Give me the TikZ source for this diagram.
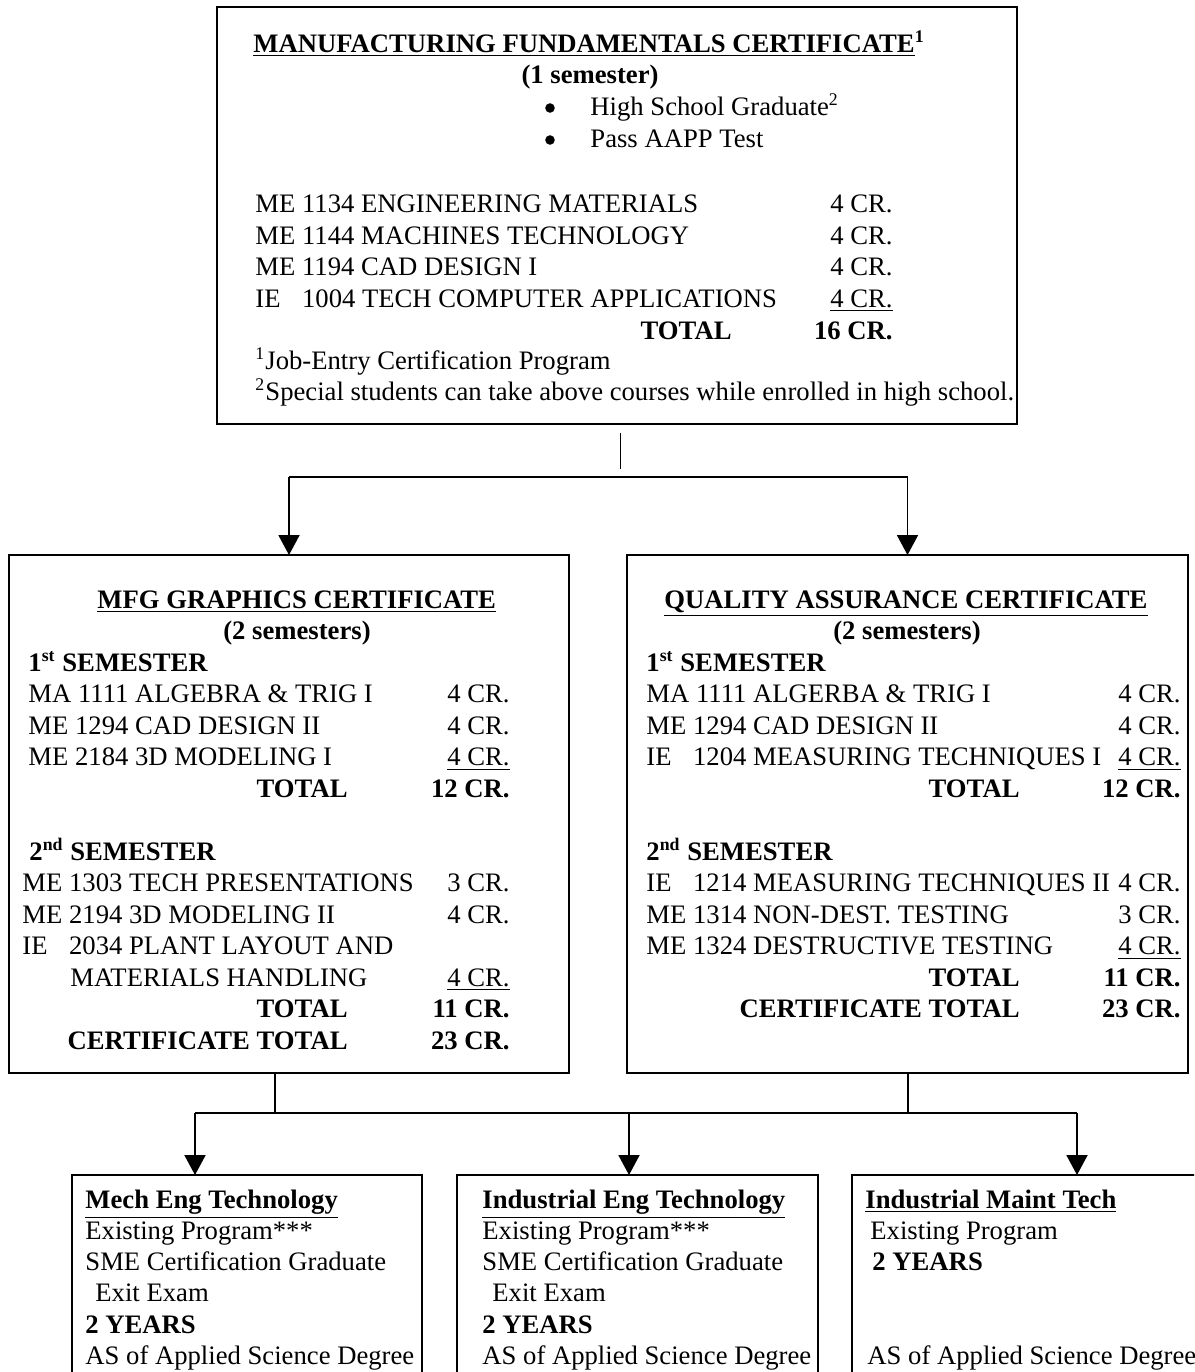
\documentclass[tikz,border=0pt]{standalone}
\usepackage{fontspec}
\setmainfont{Liberation Serif}
\usetikzlibrary{arrows.meta}
\newcommand\iepre{\rlap{IE}\phantom{ME }}
\begin{document}
\begin{tikzpicture}[x=0.45pt,y=-0.45pt,
  font=\fontsize{12}{14}\selectfont,
  frame/.style={draw,line width=0.9pt,inner sep=0,outer sep=0},
  smallframe/.style={draw,line width=0.75pt,inner sep=0,outer sep=0},
  txt/.style={inner sep=0,anchor=base west},
  rtxt/.style={inner sep=0,anchor=base east},
  ctxt/.style={inner sep=0,anchor=base},
  bullet/.style={circle,fill,inner sep=0,minimum size=4.3pt},
  conn/.style={line width=0.7pt},
  arr/.style={line width=0.7pt,-{Triangle[length=9pt,width=9.5pt]}}]
\useasboundingbox (0,0) rectangle (1194,1372);
\fill[white] (0,0) rectangle (1194,1372);
\clip (0,0) rectangle (1194,1372);

% ---------- boxes ----------
\node[frame,minimum width=360pt,minimum height=187.65pt] (top) at (617,215.5) {};
\node[frame,minimum width=252pt,minimum height=233.1pt] (mfg) at (289,814) {};
\node[frame,minimum width=252.45pt,minimum height=233.1pt] (qa) at (907.5,814) {};
\node[smallframe,minimum width=157.5pt,minimum height=123.75pt] (mech) at (247,1312.5) {};
\node[smallframe,minimum width=162.45pt,minimum height=123.75pt] (ind) at (637.5,1312.5) {};
\node[smallframe,minimum width=157.5pt,minimum height=123.75pt] (maint) at (1027,1312.5) {};

% ---------- top box text ----------
\node[txt] (t1) at (253,52) {\bfseries\underline{MANUFACTURING FUNDAMENTALS CERTIFICATE}\textsuperscript{1}};
\node[ctxt] (t2) at (590,83) {\bfseries (1 semester)};
\node[bullet] (t3) at (550,108) {};
\node[txt] (t4) at (590,115) {High School Graduate\textsuperscript{2}};
\node[bullet] (t5) at (550,140) {};
\node[txt] (t6) at (590,147) {Pass AAPP Test};
\node[txt] (t7) at (255,212) {ME 1134 ENGINEERING MATERIALS};
\node[rtxt] (t8) at (893,212) {4 CR.};
\node[txt] (t9) at (255,244) {ME 1144 MACHINES TECHNOLOGY};
\node[rtxt] (t10) at (893,244) {4 CR.};
\node[txt] (t11) at (255,275) {ME 1194 CAD DESIGN I};
\node[rtxt] (t12) at (893,275) {4 CR.};
\node[txt] (t13) at (255,307) {\iepre 1004 TECH COMPUTER APPLICATIONS};
\node[rtxt] (t14) at (893,307) {\underline{4 CR.}};
\node[rtxt] (t15) at (732,339) {\bfseries TOTAL};
\node[rtxt] (t16) at (893,339) {\bfseries 16 CR.};
\node[txt] (t17) at (255,369) {\textsuperscript{1}Job-Entry Certification Program};
\node[txt] (t18) at (255,400) {\textsuperscript{2}Special students can take above courses while enrolled in high school.};

% ---------- left certificate ----------
\node[txt] (l1) at (97,608) {\bfseries\underline{MFG GRAPHICS CERTIFICATE}};
\node[ctxt] (l2) at (297,639.5) {\bfseries (2 semesters)};
\node[txt] (l3) at (28,671) {\bfseries 1\textsuperscript{st} SEMESTER};
\node[txt] (l4) at (28,702.5) {MA 1111 ALGEBRA \& TRIG I};
\node[rtxt] (l5) at (510,702.5) {4 CR.};
\node[txt] (l6) at (28,734) {ME 1294 CAD DESIGN II};
\node[rtxt] (l7) at (510,734) {4 CR.};
\node[txt] (l8) at (28,765.5) {ME 2184 3D MODELING I};
\node[rtxt] (l9) at (510,765.5) {\underline{4 CR.}};
\node[rtxt] (l10) at (348,797) {\bfseries TOTAL};
\node[rtxt] (l11) at (510,797) {\bfseries 12 CR.};
\node[txt] (l12) at (29,860) {\bfseries 2\textsuperscript{nd} SEMESTER};
\node[txt] (l13) at (22,891.5) {ME 1303 TECH PRESENTATIONS};
\node[rtxt] (l14) at (510,891.5) {3 CR.};
\node[txt] (l15) at (22,923) {ME 2194 3D MODELING II};
\node[rtxt] (l16) at (510,923) {4 CR.};
\node[txt] (l17) at (22,954.5) {\iepre 2034 PLANT LAYOUT AND};
\node[txt] (l18) at (70,986) {MATERIALS HANDLING};
\node[rtxt] (l19) at (510,986) {\underline{4 CR.}};
\node[rtxt] (l20) at (348,1017.5) {\bfseries TOTAL};
\node[rtxt] (l21) at (510,1017.5) {\bfseries 11 CR.};
\node[rtxt] (l22) at (348,1049) {\bfseries CERTIFICATE TOTAL};
\node[rtxt] (l23) at (510,1049) {\bfseries 23 CR.};

% ---------- right certificate ----------
\node[txt] (r1) at (664,608) {\bfseries\underline{QUALITY ASSURANCE CERTIFICATE}};
\node[ctxt] (r2) at (907,639.5) {\bfseries (2 semesters)};
\node[txt] (r3) at (646,671) {\bfseries 1\textsuperscript{st} SEMESTER};
\node[txt] (r4) at (646,702.5) {MA 1111 ALGERBA \& TRIG I};
\node[rtxt] (r5) at (1181,702.5) {4 CR.};
\node[txt] (r6) at (646,734) {ME 1294 CAD DESIGN II};
\node[rtxt] (r7) at (1181,734) {4 CR.};
\node[txt] (r8) at (646,765.5) {\iepre 1204 MEASURING TECHNIQUES I};
\node[rtxt] (r9) at (1181,765.5) {\underline{4 CR.}};
\node[rtxt] (r10) at (1020,797) {\bfseries TOTAL};
\node[rtxt] (r11) at (1181,797) {\bfseries 12 CR.};
\node[txt] (r12) at (646,860) {\bfseries 2\textsuperscript{nd} SEMESTER};
\node[txt] (r13) at (646,891.5) {\iepre 1214 MEASURING TECHNIQUES II};
\node[rtxt] (r14) at (1181,891.5) {4 CR.};
\node[txt] (r15) at (646,923) {ME 1314 NON-DEST. TESTING};
\node[rtxt] (r16) at (1181,923) {3 CR.};
\node[txt] (r17) at (646,954.5) {ME 1324 DESTRUCTIVE TESTING};
\node[rtxt] (r18) at (1181,954.5) {\underline{4 CR.}};
\node[rtxt] (r19) at (1020,986) {\bfseries TOTAL};
\node[rtxt] (r20) at (1181,986) {\bfseries 11 CR.};
\node[rtxt] (r21) at (1020,1017.5) {\bfseries CERTIFICATE TOTAL};
\node[rtxt] (r22) at (1181,1017.5) {\bfseries 23 CR.};

% ---------- bottom boxes ----------
\node[txt] (a1) at (85,1208) {\bfseries\underline{Mech Eng Technology}};
\node[txt] (a2) at (85,1239) {Existing Program***};
\node[txt] (a3) at (85,1270) {SME Certification Graduate};
\node[txt] (a4) at (95,1301) {Exit Exam};
\node[txt] (a5) at (85,1333) {\bfseries 2 YEARS};
\node[txt] (a6) at (85,1364) {AS of Applied Science Degree};

\node[txt] (b1) at (482,1208) {\bfseries\underline{Industrial Eng Technology}};
\node[txt] (b2) at (482,1239) {Existing Program***};
\node[txt] (b3) at (482,1270) {SME Certification Graduate};
\node[txt] (b4) at (492,1301) {Exit Exam};
\node[txt] (b5) at (482,1333) {\bfseries 2 YEARS};
\node[txt] (b6) at (482,1364) {AS of Applied Science Degree};

\node[txt] (c1) at (865,1208) {\bfseries\underline{Industrial Maint Tech}};
\node[txt] (c2) at (870,1239) {Existing Program};
\node[txt] (c3) at (872,1270) {\bfseries 2 YEARS};
\node[txt] (c4) at (867,1364) {AS of Applied Science Degree};

% ---------- connectors ----------
\draw[conn] ([xshift=1.5pt,yshift=-4pt]top.south) -- ([xshift=1.5pt,yshift=-20.25pt]top.south);
\coordinate (hl) at (289,477);
\coordinate (hr) at (907.5,477);
\draw[conn] (hl) -- (hr);
\draw[arr] (hl) -- (mfg.north);
\draw[arr] (hr) -- (qa.north);

\coordinate (v1) at (275,1113);
\coordinate (v2) at (908,1113);
\coordinate (bl) at (195,1113);
\coordinate (bm) at (629,1113);
\coordinate (br) at (1077,1113);
\draw[conn] (v1 |- mfg.south) -- (v1);
\draw[conn] (v2 |- qa.south) -- (v2);
\draw[conn] (bl) -- (br);
\draw[arr] (bl) -- (bl |- mech.north);
\draw[arr] (bm) -- (bm |- ind.north);
\draw[arr] (br) -- (br |- maint.north);
\end{tikzpicture}
\end{document}
